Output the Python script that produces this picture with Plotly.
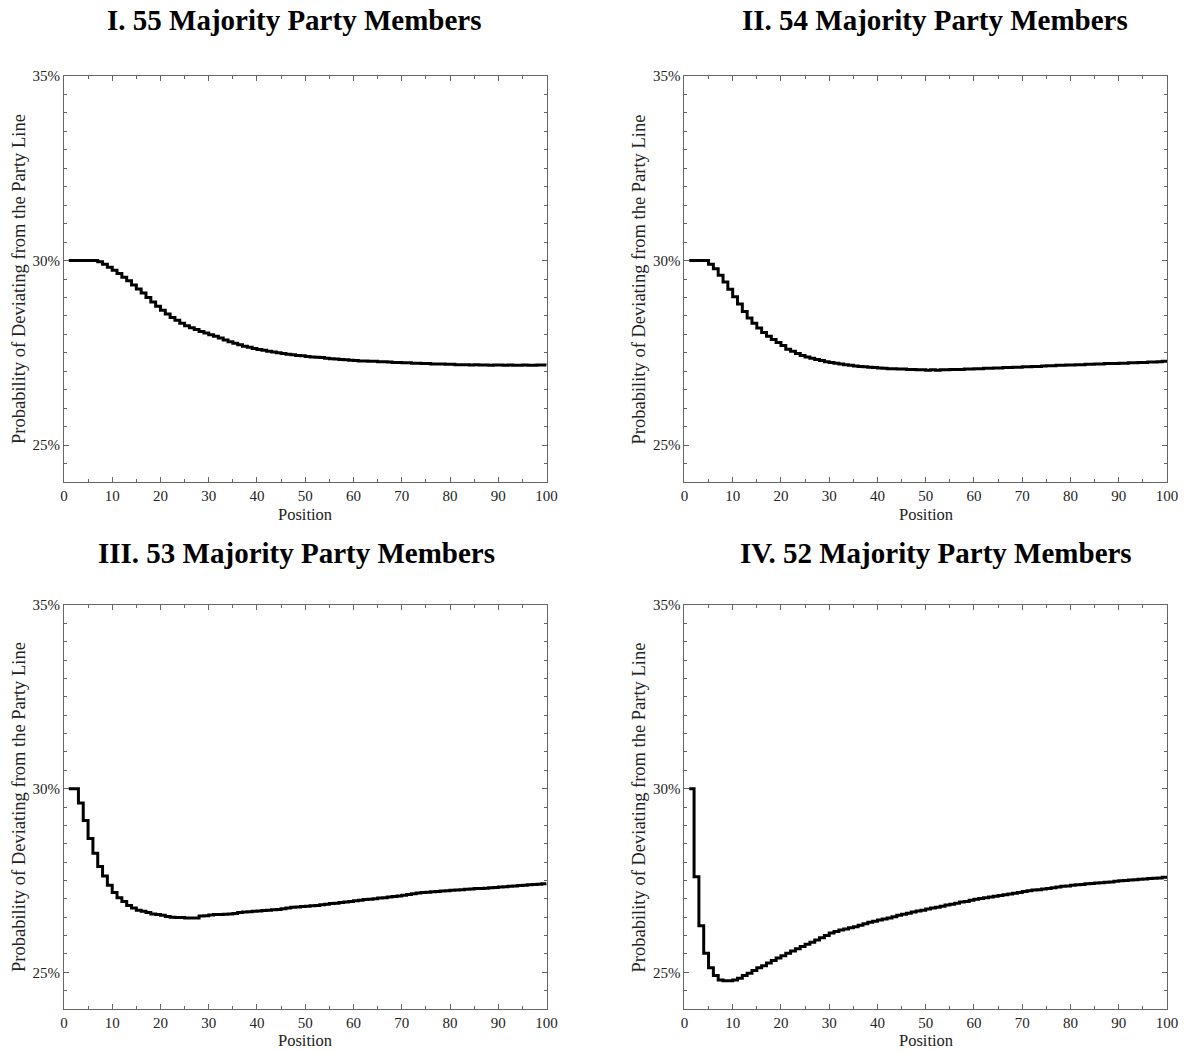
import plotly.graph_objects as go

positions = list(range(1, 101))

maj55 = [30.0, 30.0, 30.0, 30.0, 30.0, 30.0, 29.97, 29.9, 29.82, 29.74,
         29.65, 29.55, 29.45, 29.34, 29.23, 29.12, 29.0, 28.88, 28.76, 28.65,
         28.55, 28.46, 28.38, 28.3, 28.23, 28.18, 28.13, 28.08, 28.04, 27.99,
         27.95, 27.9, 27.85, 27.8, 27.76, 27.72, 27.68, 27.65, 27.62, 27.59,
         27.57, 27.54, 27.52, 27.5, 27.48, 27.46, 27.45, 27.43, 27.42, 27.4,
         27.39, 27.38, 27.37, 27.35, 27.34, 27.33, 27.32, 27.31, 27.3, 27.29,
         27.28, 27.28, 27.27, 27.27, 27.26, 27.26, 27.25, 27.24, 27.24, 27.23,
         27.23, 27.22, 27.22, 27.21, 27.21, 27.2, 27.2, 27.2, 27.19, 27.19,
         27.18, 27.18, 27.18, 27.17, 27.18, 27.17, 27.17, 27.16, 27.17, 27.17,
         27.16, 27.17, 27.16, 27.16, 27.17, 27.16, 27.16, 27.17, 27.17, 27.16]

maj54 = [30.0, 30.0, 30.0, 30.0, 29.9, 29.78, 29.6, 29.42, 29.22, 29.02,
         28.82, 28.62, 28.44, 28.3, 28.17, 28.05, 27.95, 27.86, 27.78, 27.7,
         27.6, 27.54, 27.48, 27.43, 27.39, 27.35, 27.32, 27.29, 27.26, 27.24,
         27.22, 27.2, 27.18, 27.16, 27.14, 27.13, 27.12, 27.11, 27.1, 27.09,
         27.08, 27.07, 27.07, 27.06, 27.06, 27.05, 27.05, 27.04, 27.04, 27.03,
         27.04, 27.03, 27.04, 27.04, 27.05, 27.05, 27.05, 27.06, 27.06, 27.07,
         27.07, 27.08, 27.08, 27.09, 27.09, 27.1, 27.1, 27.11, 27.11, 27.12,
         27.12, 27.13, 27.13, 27.14, 27.15, 27.15, 27.16, 27.16, 27.17, 27.17,
         27.18, 27.18, 27.19, 27.19, 27.2, 27.2, 27.21, 27.21, 27.21, 27.22,
         27.22, 27.23, 27.23, 27.24, 27.24, 27.25, 27.25, 27.26, 27.27, 27.27]

maj53 = [30.0, 30.0, 29.61, 29.13, 28.64, 28.24, 27.88, 27.62, 27.37, 27.17,
         27.03, 26.93, 26.82, 26.75, 26.69, 26.66, 26.63, 26.59, 26.57, 26.55,
         26.52, 26.5, 26.49, 26.49, 26.48, 26.48, 26.48, 26.53, 26.54, 26.56,
         26.57, 26.57, 26.58, 26.59, 26.6, 26.63, 26.64, 26.65, 26.66, 26.67,
         26.68, 26.69, 26.7, 26.71, 26.73, 26.75, 26.77, 26.78, 26.79, 26.8,
         26.81, 26.82, 26.84, 26.85, 26.87, 26.88, 26.9, 26.91, 26.93, 26.95,
         26.96, 26.98, 26.99, 27.0, 27.02, 27.03, 27.05, 27.06, 27.08, 27.1,
         27.12, 27.14, 27.16, 27.17, 27.18, 27.19, 27.2, 27.21, 27.22, 27.23,
         27.24, 27.25, 27.26, 27.27, 27.28, 27.28, 27.29, 27.3, 27.31, 27.32,
         27.33, 27.34, 27.35, 27.36, 27.37, 27.38, 27.39, 27.4, 27.41, 27.42]

maj52 = [30.0, 27.6, 26.27, 25.52, 25.12, 24.91, 24.79, 24.77, 24.77, 24.79,
         24.84, 24.91, 24.97, 25.05, 25.12, 25.18, 25.25, 25.32, 25.39, 25.45,
         25.52, 25.58, 25.64, 25.7, 25.76, 25.82, 25.88, 25.94, 26.0, 26.07,
         26.11, 26.15, 26.18, 26.21, 26.24, 26.28, 26.32, 26.36, 26.39, 26.42,
         26.45, 26.48, 26.51, 26.55, 26.58, 26.61, 26.64, 26.67, 26.69, 26.72,
         26.75, 26.77, 26.8, 26.83, 26.85, 26.88, 26.91, 26.93, 26.96, 26.99,
         27.01, 27.03, 27.05, 27.07, 27.09, 27.11, 27.13, 27.15, 27.17, 27.2,
         27.22, 27.24, 27.25, 27.27, 27.28, 27.3, 27.32, 27.34, 27.35, 27.37,
         27.38, 27.39, 27.41, 27.42, 27.43, 27.44, 27.45, 27.46, 27.48, 27.49,
         27.5, 27.51, 27.52, 27.53, 27.54, 27.55, 27.56, 27.57, 27.59, 27.6]

panel_titles = ["I. 55 Majority Party Members", "II. 54 Majority Party Members",
                "III. 53 Majority Party Members", "IV. 52 Majority Party Members"]
series = [maj55, maj54, maj53, maj52]

x_tickvals = [0, 10, 20, 30, 40, 50, 60, 70, 80, 90, 100]
y_tickvals = [25, 30, 35]
y_ticktext = ["25%", "30%", "35%"]
x_title = "Position"
y_title = "Probability of Deviating from the Party Line"

W, H = 1184, 1052
# observed placement of the drawn figure inside the photographed page
OX, SX = 3.0, 1170.0
OY, SY = 8.0, 1044.0


def fx(px):
    return (px - OX) / SX


def fy(py):
    return 1 - (py - OY) / SY


# target pixel boxes of each plot area: (left, right, top, bottom)
boxes = [(63, 546, 76, 482), (684, 1167, 76, 482),
         (63, 546, 605, 1009), (684, 1167, 605, 1009)]
title_pos = [(293, 20), (935, 20), (296, 553), (936, 553)]
# x-axis title: (y pixel, anchor)
xtitle_pos = [(514, "middle"), (514, "middle"), (1052, "bottom"), (1052, "bottom")]

FONT = "Liberation Serif, Times New Roman, serif"
AX_COLOR = "#666666"
TXT = "#222222"

fig = go.Figure()
layout = dict(width=W, height=H, margin=dict(l=0, r=0, t=0, b=0),
              paper_bgcolor="white", plot_bgcolor="white", showlegend=False,
              font=dict(family=FONT, color=TXT))
annotations = []

for i, (vals, (l, r, t, b)) in enumerate(zip(series, boxes)):
    k = "" if i == 0 else str(i + 1)
    fig.add_trace(go.Scatter(x=positions, y=vals, mode="lines",
                             line=dict(color="black", width=3, shape="hv"),
                             xaxis="x" + k, yaxis="y" + k))
    layout["xaxis" + k] = dict(
        domain=[fx(l), fx(r)], anchor="y" + k, range=[0, 100],
        tickmode="array", tickvals=x_tickvals, ticks="inside", ticklen=5,
        tickcolor=AX_COLOR, showline=True, linecolor=AX_COLOR, linewidth=1,
        mirror="ticks", showgrid=False, zeroline=False,
        tickfont=dict(family=FONT, size=15, color=TXT),
        minor=dict(ticks="inside", dtick=5, tick0=0, ticklen=3, tickcolor=AX_COLOR, showgrid=False),
    )
    layout["yaxis" + k] = dict(
        domain=[fy(b), fy(t)], anchor="x" + k, range=[24, 35],
        tickmode="array", tickvals=y_tickvals, ticktext=y_ticktext,
        ticks="inside", ticklen=5, tickcolor=AX_COLOR,
        showline=True, linecolor=AX_COLOR, linewidth=1, mirror="ticks",
        showgrid=False, zeroline=False,
        tickfont=dict(family=FONT, size=15, color=TXT),
        minor=dict(ticks="inside", dtick=0.5, tick0=0, ticklen=3, tickcolor=AX_COLOR, showgrid=False),
    )
    tx, ty = title_pos[i]
    annotations.append(dict(text="<b>" + panel_titles[i] + "</b>", x=fx(tx), y=fy(ty),
                            xref="paper", yref="paper", showarrow=False,
                            xanchor="center", yanchor="middle",
                            font=dict(family=FONT, size=29, color="black")))
    xy, xanc = xtitle_pos[i]
    annotations.append(dict(text=x_title, x=fx((l + r) / 2), y=fy(xy),
                            xref="paper", yref="paper", showarrow=False,
                            xanchor="center", yanchor=xanc,
                            font=dict(family=FONT, size=16.5, color=TXT)))
    annotations.append(dict(text=y_title, x=fx(l - 45), y=fy((t + b) / 2),
                            xref="paper", yref="paper", showarrow=False, textangle=-90,
                            xanchor="center", yanchor="middle",
                            font=dict(family=FONT, size=18.5, color=TXT)))

layout["annotations"] = annotations
fig.update_layout(**layout)
fig.write_html("out.html")
